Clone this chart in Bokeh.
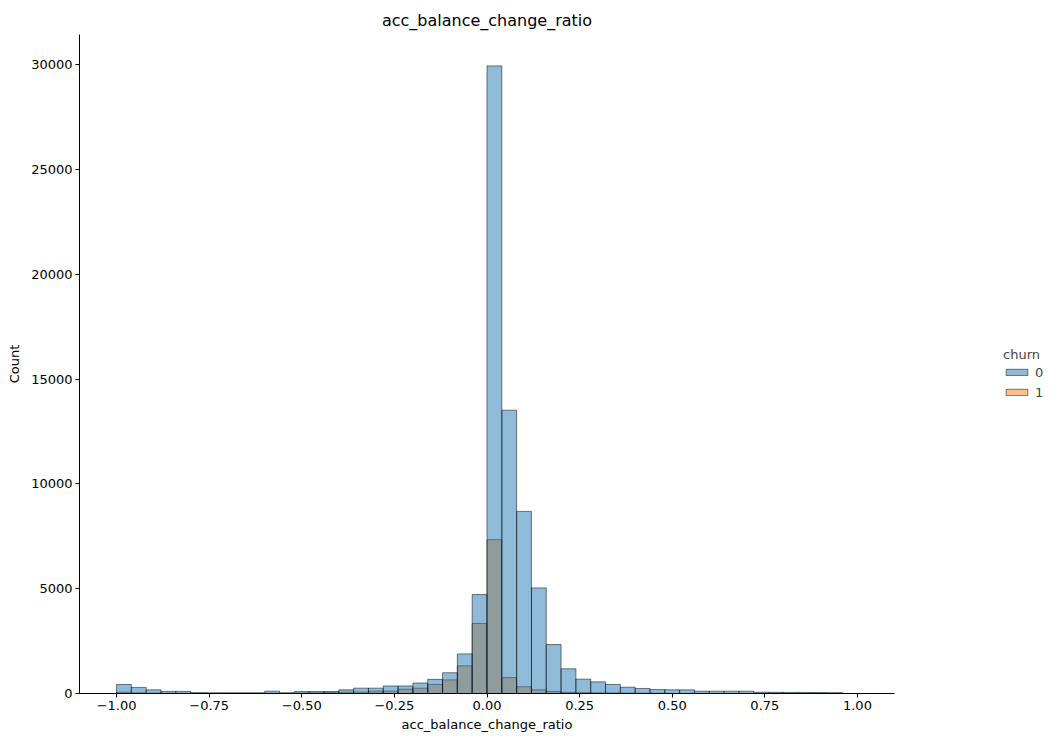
import numpy as np
from bokeh.plotting import figure
from bokeh.models import Legend, LegendItem, FixedTicker, Range1d, ColumnDataSource, CustomJSTickFormatter
from bokeh.embed import file_html
from bokeh.resources import INLINE

# ---- data ----
bin_start = -1.0
bin_width = 0.04
n_bins = 50

counts_churn0 = [430, 290, 175, 100, 100, 40, 30, 30, 30, 30,
                 110, 30, 90, 95, 95, 175, 255, 255, 360, 360,
                 500, 675, 990, 1890, 4720, 29950, 13520, 8690, 5040, 2335,
                 1180, 684, 556, 430, 300, 240, 190, 175, 175, 110,
                 110, 110, 110, 60, 55, 50, 50, 45, 40, 0]

counts_churn1 = [60, 30, 20, 15, 15, 10, 10, 10, 10, 10,
                 12, 10, 25, 30, 50, 65, 65, 110, 110, 205,
                 255, 430, 650, 1320, 3340, 7340, 760, 320, 175, 95,
                 60, 40, 30, 25, 20, 15, 15, 10, 10, 10,
                 5, 5, 5, 5, 5, 5, 5, 5, 5, 0]

x_ticks = [-1.0, -0.75, -0.5, -0.25, 0.0, 0.25, 0.5, 0.75, 1.0]
y_ticks = [0, 5000, 10000, 15000, 20000, 25000, 30000]
hue_labels = ["0", "1"]
hue_colors = ["#1f77b4", "#ff7f0e"]

left = bin_start + bin_width * np.arange(n_bins)
right = left + bin_width

src0 = ColumnDataSource(dict(left=left, right=right, top=counts_churn0))
src1 = ColumnDataSource(dict(left=left, right=right, top=counts_churn1))

ymax = max(counts_churn0) * 1.05

p = figure(frame_width=815, frame_height=659,
           x_range=Range1d(-1.1, 1.1), y_range=Range1d(0, ymax),
           output_backend="svg", toolbar_location=None,
           min_border_left=0, min_border_right=145,
           min_border_top=26, min_border_bottom=43,
           title="acc_balance_change_ratio")
p.margin = (4, 0, 0, 4)

p.title.align = "center"
p.title.text_font = "DejaVu Sans"
p.title.text_font_size = "16px"
p.title.text_font_style = "normal"
p.title.text_color = "black"
p.title.standoff = 9

r1 = p.quad(left="left", right="right", top="top", bottom=0, source=src1,
            fill_color=hue_colors[1], fill_alpha=0.5,
            line_color="black", line_alpha=0.5, line_width=1)
r0 = p.quad(left="left", right="right", top="top", bottom=0, source=src0,
            fill_color=hue_colors[0], fill_alpha=0.5,
            line_color="black", line_alpha=0.5, line_width=1)

p.grid.visible = False
p.outline_line_color = None
p.background_fill_color = "white"

for ax in (p.xaxis[0], p.yaxis[0]):
    ax.axis_line_color = "black"
    ax.axis_line_width = 1
    ax.major_tick_line_color = "black"
    ax.major_tick_out = 4
    ax.major_tick_in = 0
    ax.minor_tick_line_color = None
    ax.major_label_text_font = "DejaVu Sans"
    ax.major_label_text_font_size = "13px"
    ax.major_label_text_color = "black"
    ax.axis_label_text_font = "DejaVu Sans"
    ax.axis_label_text_font_size = "13px"
    ax.axis_label_text_font_style = "normal"
    ax.axis_label_text_color = "black"
    ax.major_label_standoff = 3

p.xaxis.ticker = FixedTicker(ticks=x_ticks)
p.xaxis.formatter = CustomJSTickFormatter(code="""
    return (tick < 0 ? "\u2212" : "") + Math.abs(tick).toFixed(2);
""")
p.xaxis.axis_label = "acc_balance_change_ratio"
p.xaxis.axis_label_standoff = 4

p.yaxis.ticker = FixedTicker(ticks=y_ticks)
p.yaxis.axis_label = "Count"
p.yaxis.axis_label_standoff = 6

legend = Legend(items=[LegendItem(label=hue_labels[0], renderers=[r0]),
                       LegendItem(label=hue_labels[1], renderers=[r1])],
                location=(109, 293), title="churn",
                border_line_color=None, background_fill_alpha=0,
                glyph_width=27, glyph_height=8, label_height=16,
                spacing=4, padding=0, margin=0, title_standoff=2,
                label_standoff=5,
                label_text_font="DejaVu Sans", label_text_font_size="13px",
                title_text_font="DejaVu Sans", title_text_font_size="13px",
                title_text_font_style="normal")
p.add_layout(legend, "right")

open("out.html", "w").write(file_html(p, INLINE))
